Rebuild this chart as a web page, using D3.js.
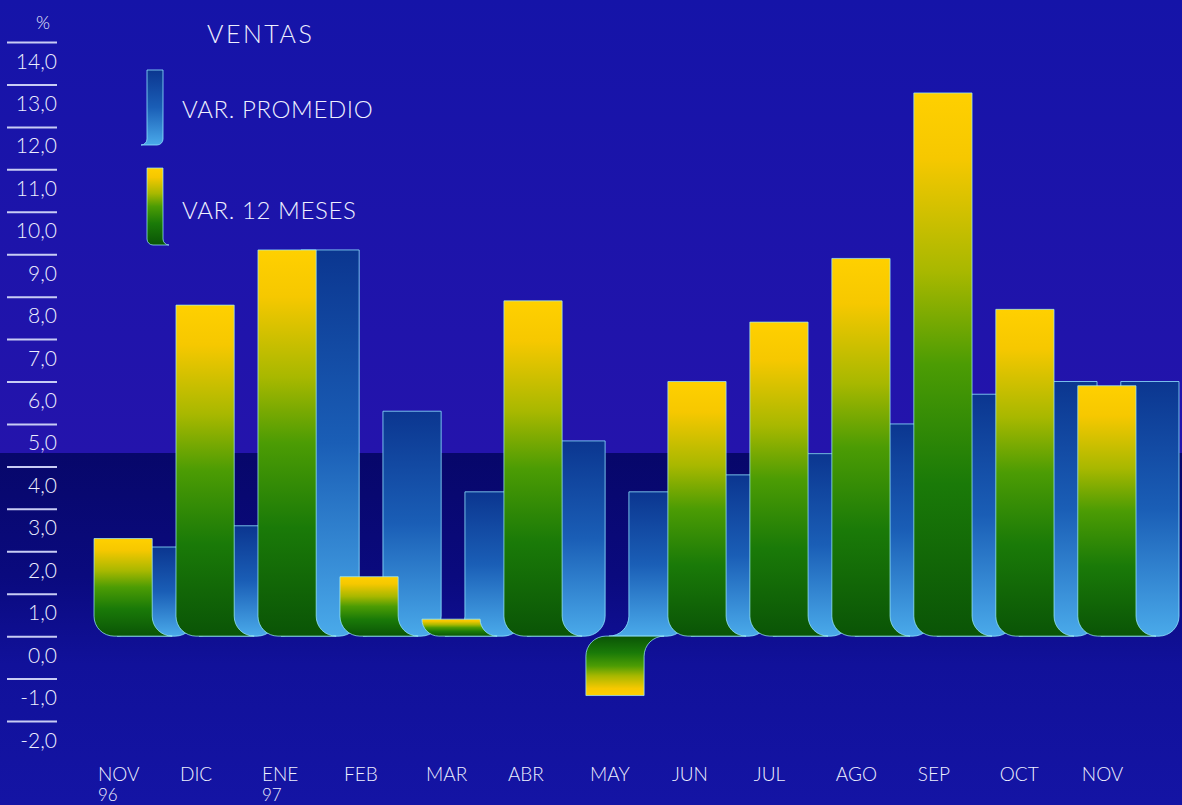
<!DOCTYPE html>
<html>
<head>
<meta charset="utf-8">
<script src="https://cdn.jsdelivr.net/npm/d3@7"></script>
<style>
  body { margin: 0; background: #1412a2; overflow: hidden; }
  svg { display: block; }
  text { font-family: Lato, "DejaVu Sans", sans-serif; font-weight: 300; fill: #eef0ff; }
</style>
</head>
<body>
<div id="container"></div>
<script>
/* DATA */
const months = ["NOV 96", "DIC", "ENE 97", "FEB", "MAR", "ABR", "MAY", "JUN", "JUL", "AGO", "SEP", "OCT", "NOV"];
const varPromedio = [2.1, 2.6, 9.1, 5.3, 3.4, 4.6, 3.4, 3.8, 4.3, 5.0, 5.7, 6.0, 6.0];
const var12Meses = [2.3, 7.8, 9.1, 1.4, 0.4, 7.9, -1.4, 6.0, 7.4, 8.9, 12.8, 7.7, 5.9];
const yTicks = [14, 13, 12, 11, 10, 9, 8, 7, 6, 5, 4, 3, 2, 1, 0, -1, -2];
const seriesNames = ["VAR. PROMEDIO", "VAR. 12 MESES"];

/* CONSTANTS */
const width = 1182, height = 805;
const r0 = 20;

/* SCALES */
const y = d3.scaleLinear()
  .domain([-2, 14])
  .range([721, 42]);

const x = d3.scaleBand()
  .domain(months)
  .range([94, 1136])
  .paddingInner(0.29);

const backShift = 43; // blue bars sit behind and to the right

const svg = d3.select("#container")
  .append("svg")
  .attr("width", width)
  .attr("height", height);

const defs = svg.append("defs");

// background gradients
const bgTop = defs.append("linearGradient").attr("id", "bgTop")
  .attr("x1", 0).attr("y1", 0).attr("x2", 0).attr("y2", 1);
bgTop.append("stop").attr("offset", 0).attr("stop-color", "#1514a8");
bgTop.append("stop").attr("offset", 1).attr("stop-color", "#2414ac");

const bgLow = defs.append("linearGradient").attr("id", "bgLow")
  .attr("x1", 0).attr("y1", 0).attr("x2", 0).attr("y2", 1);
bgLow.append("stop").attr("offset", 0).attr("stop-color", "#07076a");
bgLow.append("stop").attr("offset", 0.35).attr("stop-color", "#0a0a7e");
bgLow.append("stop").attr("offset", 0.6).attr("stop-color", "#11119a");
bgLow.append("stop").attr("offset", 1).attr("stop-color", "#1414a4");

// bar gradients
const gUp = defs.append("linearGradient").attr("id", "greenUp")
  .attr("x1", 0).attr("y1", 0).attr("x2", 0).attr("y2", 1);
const gDown = defs.append("linearGradient").attr("id", "greenDown")
  .attr("x1", 0).attr("y1", 1).attr("x2", 0).attr("y2", 0);
[[0, "#ffd000"], [0.12, "#f6c800"], [0.33, "#a8b800"], [0.5, "#4c9c04"], [0.72, "#1a7a08"], [1, "#0a5406"]]
  .forEach(([o, c]) => {
    gUp.append("stop").attr("offset", o).attr("stop-color", c);
    gDown.append("stop").attr("offset", o).attr("stop-color", c);
  });

const bGrad = defs.append("linearGradient").attr("id", "blue")
  .attr("x1", 0).attr("y1", 0).attr("x2", 0).attr("y2", 1);
bGrad.append("stop").attr("offset", 0).attr("stop-color", "#0b3690");
bGrad.append("stop").attr("offset", 0.5).attr("stop-color", "#1a5eb6");
bGrad.append("stop").attr("offset", 1).attr("stop-color", "#4aaaea");

/* BACKGROUND */
svg.append("rect")
  .attr("width", width).attr("height", 453)
  .attr("fill", "url(#bgTop)");
svg.append("rect")
  .attr("y", 453).attr("width", width).attr("height", height - 453)
  .attr("fill", "url(#bgLow)");

/* SHAPES */
// front bar: round bottom-left, flared foot on the right
const frontPath = (x0, w, t, b, r) => {
  const x1 = x0 + w;
  r = Math.min(r, Math.abs(b - t));
  if (t <= b) {
    return `M${x0},${t}H${x1}V${b - r}A${r},${r} 0 0 0 ${x1 + r},${b}H${x0 + r}A${r},${r} 0 0 1 ${x0},${b - r}Z`;
  }
  return `M${x0},${t}H${x1}V${b + r}A${r},${r} 0 0 1 ${x1 + r},${b}H${x0 + r}A${r},${r} 0 0 0 ${x0},${b + r}Z`;
};
// back bar: flared foot on the left, round bottom-right
const backPath = (x0, w, t, b, r) => {
  const x1 = x0 + w;
  r = Math.min(r, b - t);
  return `M${x0},${t}H${x1}V${b - r}A${r},${r} 0 0 1 ${x1 - r},${b}H${x0 - r}A${r},${r} 0 0 0 ${x0},${b - r}Z`;
};

/* DRAW BARS */
const bars = svg.append("g");

bars.selectAll(".promedio")
  .data(months)
  .join("path")
  .attr("class", "promedio")
  .attr("d", (m, i) => backPath(x(m) + backShift, x.bandwidth(), y(varPromedio[i]), y(0), r0))
  .attr("fill", "url(#blue)")
  .attr("stroke", "#8fe4ff")
  .attr("stroke-width", 1)
  .attr("stroke-opacity", 0.8);

bars.selectAll(".meses")
  .data(months)
  .join("path")
  .attr("class", "meses")
  .attr("d", (m, i) => frontPath(x(m), x.bandwidth(), y(var12Meses[i]), y(0), r0))
  .attr("fill", (m, i) => var12Meses[i] >= 0 ? "url(#greenUp)" : "url(#greenDown)")
  .attr("stroke", "#9ff0ff")
  .attr("stroke-width", 1)
  .attr("stroke-opacity", 0.7);

/* Y AXIS */
const yAxis = d3.axisLeft(y)
  .tickValues(yTicks)
  .tickSize(50)
  .tickFormat(d => d.toFixed(1).replace(".", ","));

const yg = svg.append("g")
  .attr("transform", "translate(57,0)")
  .call(yAxis);
yg.select(".domain").remove();
yg.selectAll(".tick line")
  .attr("stroke", "#c8ccf4")
  .attr("stroke-width", 2);
yg.selectAll(".tick text")
  .attr("x", 0)
  .attr("dy", 26)
  .attr("text-anchor", "end")
  .style("font-size", "21px")
  .style("font-family", "Lato, 'DejaVu Sans', sans-serif")
  .style("font-weight", 300)
  .attr("fill", "#eef0ff");

svg.append("text")
  .attr("x", 43).attr("y", 29)
  .attr("text-anchor", "middle")
  .style("font-size", "18px")
  .text("%");

/* X LABELS */
const xLabels = svg.append("g");
xLabels.selectAll(".month")
  .data(months)
  .join("text")
  .attr("class", "month")
  .attr("x", m => x(m) + 4)
  .attr("y", 781)
  .style("font-size", "19px")
  .text(m => m.split(" ")[0]);

xLabels.selectAll(".year")
  .data(months.filter(m => m.includes(" ")))
  .join("text")
  .attr("class", "year")
  .attr("x", m => x(m) + 4)
  .attr("y", 801)
  .style("font-size", "17px")
  .text(m => m.split(" ")[1]);

/* LEGEND */
svg.append("text")
  .attr("x", 207).attr("y", 43)
  .style("font-size", "25px")
  .style("letter-spacing", "2.5px")
  .text("VENTAS");

svg.append("path")
  .attr("d", backPath(147, 16, 70, 145, 6))
  .attr("fill", "url(#blue)")
  .attr("stroke", "#8fe4ff").attr("stroke-opacity", 0.8);
svg.append("path")
  .attr("d", frontPath(147, 16, 168, 245, 6))
  .attr("fill", "url(#greenUp)")
  .attr("stroke", "#9ff0ff").attr("stroke-opacity", 0.7);

svg.selectAll(".legend-label")
  .data(seriesNames)
  .join("text")
  .attr("class", "legend-label")
  .attr("x", 182)
  .attr("y", (d, i) => 118 + i * 101)
  .style("font-size", "24px")
  .style("letter-spacing", "0.6px")
  .text(d => d);
</script>
</body>
</html>
